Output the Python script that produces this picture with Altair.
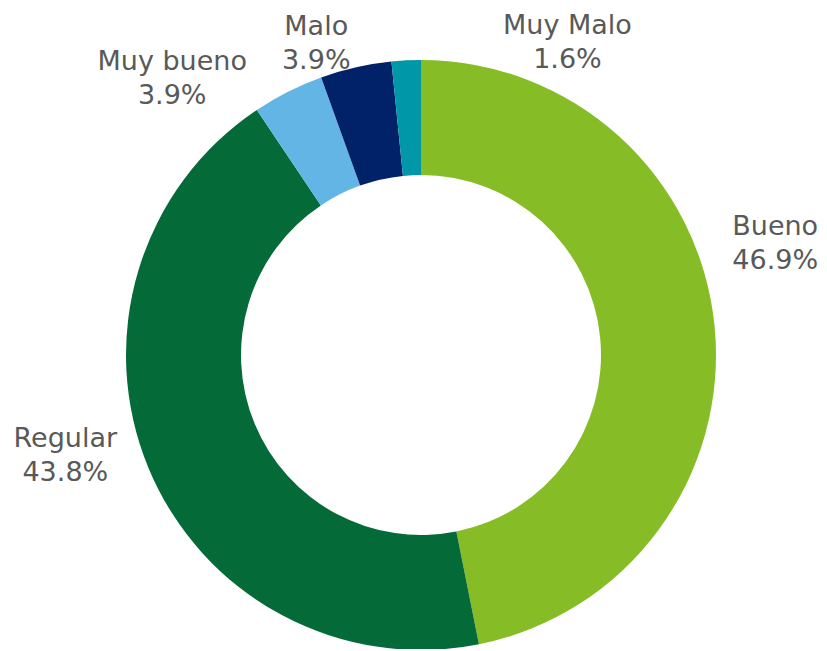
import altair as alt
import pandas as pd

categories = ["Bueno", "Regular", "Muy bueno", "Malo", "Muy Malo"]
values = [46.9, 43.8, 3.9, 3.9, 1.6]
pct_labels = ["46.9%", "43.8%", "3.9%", "3.9%", "1.6%"]
colors = ["#86BC25", "#046A38", "#62B5E5", "#012169", "#0097A9"]

df = pd.DataFrame({"cat": categories, "val": values, "pct": pct_labels,
                   "idx": list(range(len(categories)))})

CX, CY = 413, 347
base = alt.Chart(df).transform_calculate(
    label="datum.cat + '|' + datum.pct"
).encode(
    theta=alt.Theta("val:Q", stack=True),
    order=alt.Order("idx:Q", sort="ascending"),
    x=alt.value(CX),
    y=alt.value(CY),
)

arc = base.mark_arc(innerRadius=180, outerRadius=295).encode(
    color=alt.Color("cat:N", scale=alt.Scale(domain=categories, range=colors), legend=None)
)

# label layout offsets (dx, dy) relative to the slice mid-angle at radius 370
offsets = {
    "Bueno": (-14, -91),
    "Regular": (-14, -58),
    "Muy bueno": (-82, 37),
    "Malo": (-23, 33),
    "Muy Malo": (165, 41),
}

layers = [arc]
for c in categories:
    dx, dy = offsets[c]
    layers.append(
        base.mark_text(radius=370, dx=dx, dy=dy, font="DejaVu Sans", fontSize=27,
                       color="#595959", lineBreak="|", lineHeight=34,
                       align="center", baseline="middle").encode(
            text=alt.condition(alt.datum.cat == c, "label:N", alt.value(""))
        )
    )

chart = alt.layer(*layers).properties(
    width=811, height=641,
    autosize=alt.AutoSizeParams(type="none"),
    padding=0,
).configure_view(stroke=None)

chart.save("out.html", embed_options={"renderer": "svg", "actions": False})
